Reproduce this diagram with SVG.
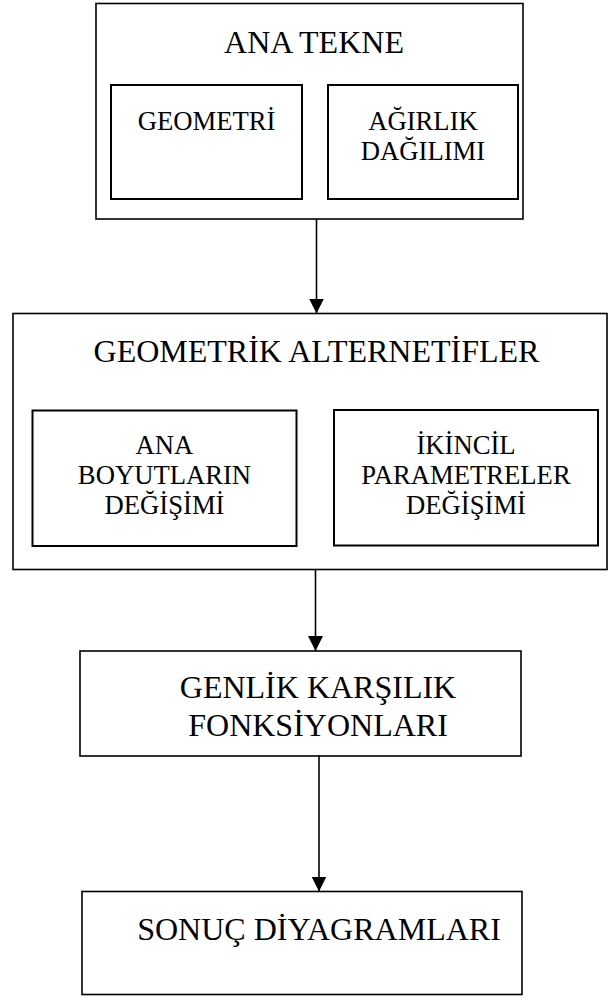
<svg xmlns="http://www.w3.org/2000/svg" width="608" height="1001" viewBox="0 0 608 1001">
<style>
  .box { fill: #ffffff; stroke: #000000; stroke-width: 1.6; }
  .inner { fill: #ffffff; stroke: #000000; stroke-width: 2; }
  .big { font-family: "Liberation Serif", "Times New Roman", serif; font-size: 32px; fill: #000000; text-anchor: middle; }
  .small { font-family: "Liberation Serif", "Times New Roman", serif; font-size: 26.67px; fill: #000000; text-anchor: middle; }
  .conn { stroke: #000000; stroke-width: 1.6; fill: none; }
</style>
<defs>
  <marker id="arrow" markerUnits="userSpaceOnUse" markerWidth="15" markerHeight="15" viewBox="0 0 15 15" refX="15" refY="7.5" orient="auto">
    <path d="M0,0 L15,7.5 L0,15 Z" fill="#000000"/>
  </marker>
</defs>
<rect width="608" height="1001" fill="#ffffff"/>

<g id="ana-tekne">
  <rect class="box" x="96" y="3.5" width="427" height="215.5"/>
  <text class="big" x="314" y="53">ANA TEKNE</text>
  <g id="geometri">
    <rect class="inner" x="111" y="85" width="191" height="114"/>
    <text class="small" x="206.5" y="130">GEOMETRİ</text>
  </g>
  <g id="agirlik-dagilimi">
    <rect class="inner" x="328" y="85" width="190" height="114"/>
    <text class="small" x="423" y="129.5">AĞIRLIK</text>
    <text class="small" x="423" y="159.5">DAĞILIMI</text>
  </g>
</g>

<g id="geometrik-alternetifler">
  <rect class="box" x="13" y="313.5" width="594" height="256"/>
  <text class="big" x="316.5" y="361.5">GEOMETRİK ALTERNETİFLER</text>
  <g id="ana-boyutlar">
    <rect class="inner" x="32.5" y="410.5" width="264" height="135.5"/>
    <text class="small" x="164.5" y="454">ANA</text>
    <text class="small" x="164.5" y="484">BOYUTLARIN</text>
    <text class="small" x="164.5" y="514">DEĞİŞİMİ</text>
  </g>
  <g id="ikincil-parametreler">
    <rect class="inner" x="334" y="410" width="264" height="135.5"/>
    <text class="small" x="466" y="454">İKİNCİL</text>
    <text class="small" x="466" y="484">PARAMETRELER</text>
    <text class="small" x="466" y="514">DEĞİŞİMİ</text>
  </g>
</g>

<g id="genlik-karsilik">
  <rect class="box" x="80" y="651" width="441" height="105"/>
  <text class="big" x="318" y="698">GENLİK KARŞILIK</text>
  <text class="big" x="318" y="736">FONKSİYONLARI</text>
</g>

<g id="sonuc-diyagramlari">
  <rect class="box" x="82" y="891.5" width="440" height="103"/>
  <text class="big" x="319" y="940">SONUÇ DİYAGRAMLARI</text>
</g>

<g id="connectors">
  <line class="conn" x1="316.5" y1="219" x2="316.5" y2="313.5" marker-end="url(#arrow)"/>
  <line class="conn" x1="315.5" y1="569.5" x2="315.5" y2="651" marker-end="url(#arrow)"/>
  <line class="conn" x1="319" y1="755" x2="319" y2="891.5" marker-end="url(#arrow)"/>
</g>
</svg>
